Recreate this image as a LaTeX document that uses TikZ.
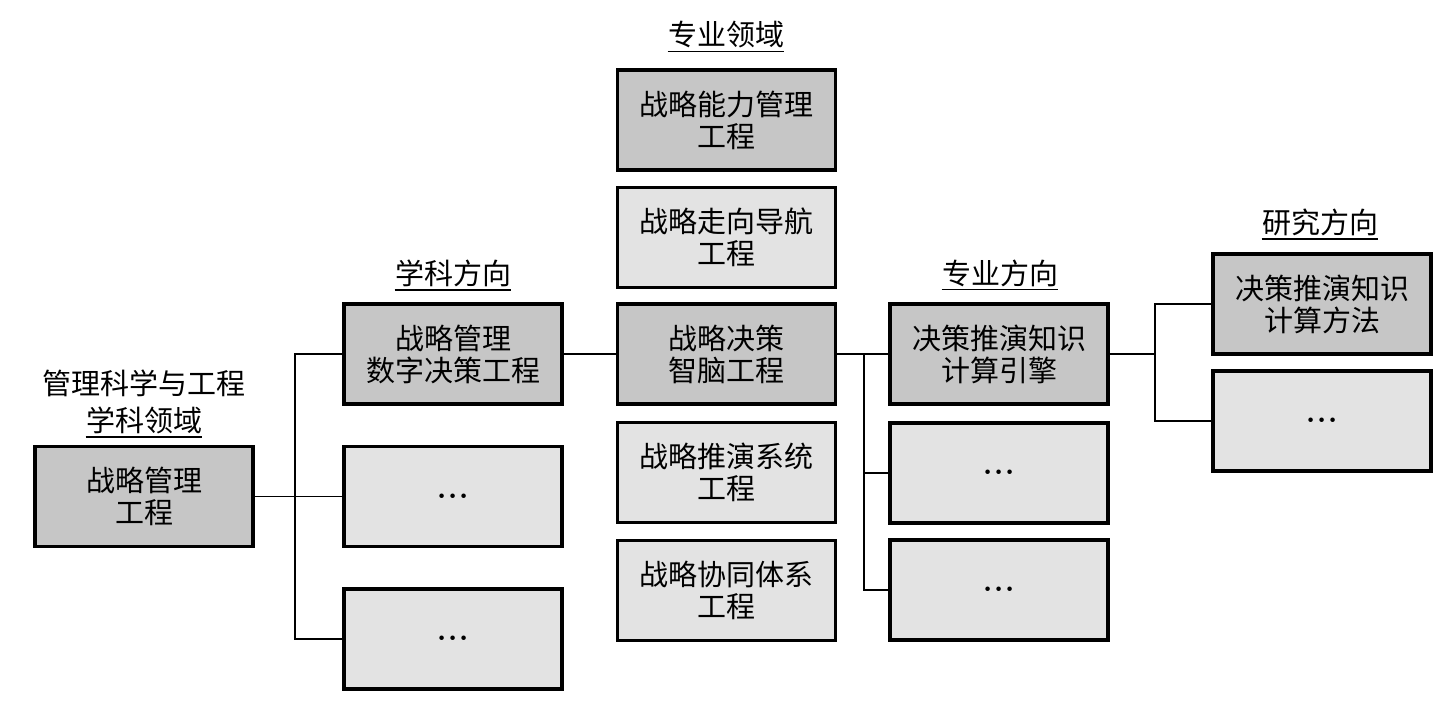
\documentclass[tikz,border=0pt]{standalone}
\usepackage{fontspec}
\newfontfamily\cjk{Noto Sans CJK SC}
\definecolor{darkfill}{RGB}{198,198,198}
\definecolor{lightfill}{RGB}{227,227,227}
\tikzset{
  box/.style={draw=black, line width=1.75pt, minimum width=109pt, minimum height=50pt,
    inner sep=0pt, align=center, font=\cjk\fontsize{14.5}{16}\selectfont},
  darkbox/.style={box, fill=darkfill},
  lightbox/.style={box, fill=lightfill},
  lbl/.style={inner sep=0pt, align=center, font=\cjk\fontsize{14.5}{19}\selectfont},
  conn/.style={draw=black, line width=0.75pt},
  uline/.style={draw=black, line width=0.6pt},
}
\newcommand{\dotsbox}{{\fontsize{15}{15}\selectfont\boldmath$\cdot\!\cdot\!\cdot$}}
\begin{document}
\begin{tikzpicture}[x=0.5pt, y=-0.5pt]
\useasboundingbox (0,0) rectangle (1452,719);
% column 1
\node[darkbox] (b1) at (144,496.5) {战略管理\\工程};
\node[lbl] (l1a) at (144,383) {管理科学与工程};
\node[lbl] (l1b) at (144,420) {学科领域};
\draw[uline] ([yshift=-1.5pt]l1b.south west) -- ([yshift=-1.5pt]l1b.south east);
% column 2
\node[darkbox] (c2a) at (453,354) {战略管理\\数字决策工程};
\node[lightbox] (c2b) at (453,496.5) {\dotsbox};
\node[lightbox] (c2c) at (453,639) {\dotsbox};
\node[lbl] (l2) at (453,273) {学科方向};
\draw[uline] ([yshift=-1.5pt]l2.south west) -- ([yshift=-1.5pt]l2.south east);
% column 3
\node[darkbox] (c3a) at (726.5,120) {战略能力管理\\工程};
\node[lightbox] (c3b) at (726.5,237.5) {战略走向导航\\工程};
\node[darkbox] (c3c) at (726.5,354) {战略决策\\智脑工程};
\node[lightbox] (c3d) at (726.5,472.5) {战略推演系统\\工程};
\node[lightbox] (c3e) at (726.5,590.5) {战略协同体系\\工程};
\node[lbl] (l3) at (726,35) {专业领域};
\draw[uline] ([yshift=-1.5pt]l3.south west) -- ([yshift=-1.5pt]l3.south east);
% column 4
\node[darkbox] (c4a) at (999,354) {决策推演知识\\计算引擎};
\node[lightbox] (c4b) at (999,473) {\dotsbox};
\node[lightbox] (c4c) at (999,590) {\dotsbox};
\node[lbl] (l4) at (1000,273) {专业方向};
\draw[uline] ([yshift=-1.5pt]l4.south west) -- ([yshift=-1.5pt]l4.south east);
% column 5
\node[darkbox] (c5a) at (1322,304) {决策推演知识\\计算方法};
\node[lightbox] (c5b) at (1322,421) {\dotsbox};
\node[lbl] (l5) at (1320,222) {研究方向};
\draw[uline] ([yshift=-1.5pt]l5.south west) -- ([yshift=-1.5pt]l5.south east);
% junctions
\coordinate (j1) at (295,496.5);
\coordinate (j2) at (864,354);
\coordinate (j3) at (1155,354);
% connectors
\draw[conn] (b1.east) -- (c2b.west);
\draw[conn] (c2a.west) -| (j1) |- (c2c.west);
\draw[conn] (c2a.east) -- (c3c.west);
\draw[conn] (c3c.east) -- (c4a.west);
\draw[conn] (j2) |- (c4c.west);
\draw[conn] (j2 |- c4b.west) -- (c4b.west);
\draw[conn] (c4a.east) -- (j3);
\draw[conn] (c5a.west) -| (j3) |- (c5b.west);
\end{tikzpicture}
\end{document}
